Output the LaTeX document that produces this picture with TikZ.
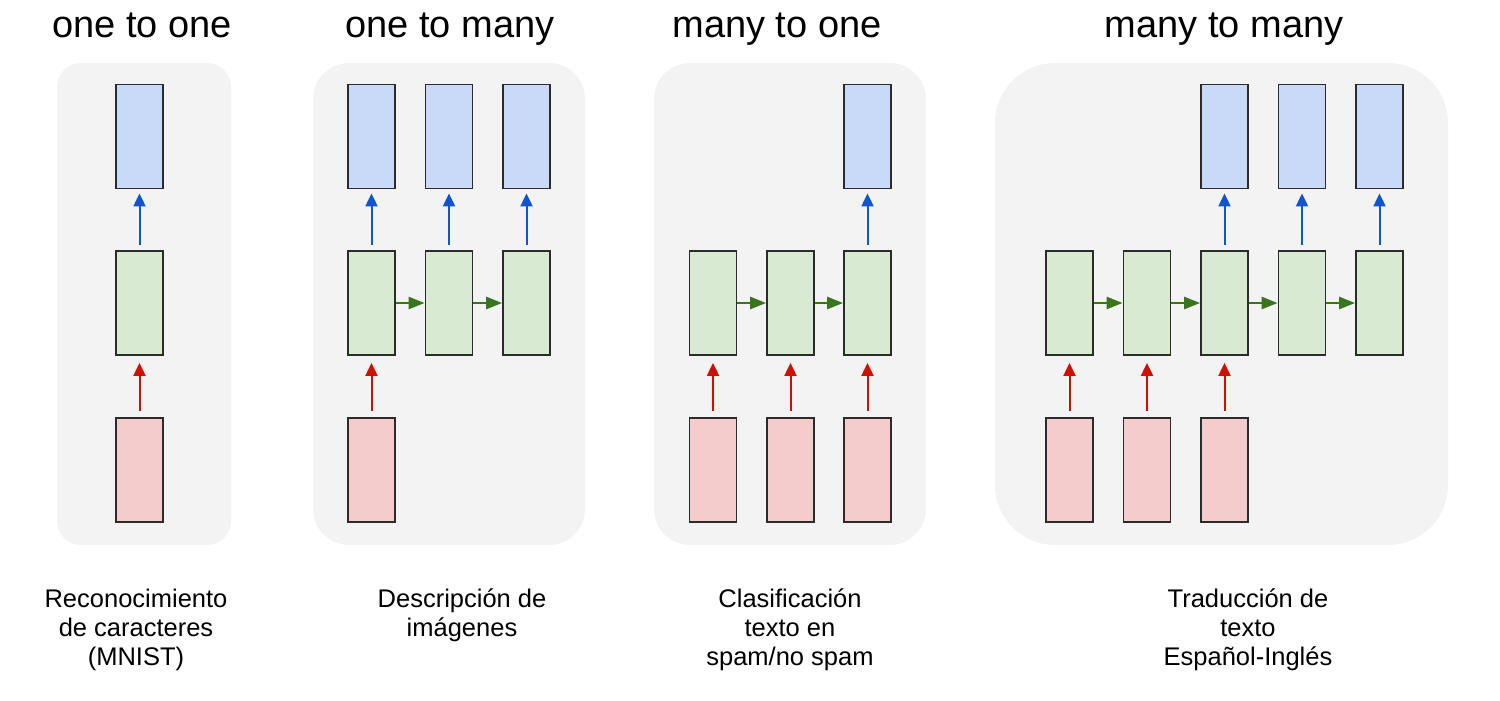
\documentclass[tikz,border=0pt]{standalone}
\usepackage{fontspec}
\setmainfont{Liberation Sans}
\usetikzlibrary{arrows.meta,positioning}
\definecolor{panelgray}{HTML}{F3F3F3}
\definecolor{boxline}{HTML}{2B2B2B}
\definecolor{infill}{HTML}{F4CCCC}
\definecolor{hidfill}{HTML}{D9EAD3}
\definecolor{outfill}{HTML}{C9DAF8}
\definecolor{inarrow}{HTML}{CC1100}
\definecolor{recarrow}{HTML}{38761D}
\definecolor{outarrow}{HTML}{1155CC}

\begin{document}
\begin{tikzpicture}[
    x=1pt, y=-1pt,
    panel/.style={fill=panelgray, draw=none, inner sep=0},
    cell/.style={draw=boxline, line width=1.8pt, minimum width=47pt, minimum height=104pt, inner sep=0},
    cellin/.style={cell, fill=infill},
    cellhid/.style={cell, fill=hidfill},
    cellout/.style={cell, fill=outfill},
    tip/.style={-{Triangle[length=13pt,width=12pt]}},
    arrin/.style={tip, draw=inarrow, fill=inarrow, line width=2pt, shorten <=6pt, shorten >=7pt},
    arrout/.style={tip, draw=outarrow, fill=outarrow, line width=2pt, shorten <=5pt, shorten >=4pt},
    arrrec/.style={-{Triangle[length=16pt,width=12pt]}, draw=recarrow, fill=recarrow, line width=2.6pt},
    ttl/.style={anchor=base, inner sep=0, font=\fontsize{38}{44}\selectfont},
    % base anchor of a multi-line label is its last line
    lbl/.style={anchor=base, inner sep=0, align=center, font=\fontsize{25.5}{29}\selectfont}]
\useasboundingbox (0,0) rectangle (1500,701);

% gray panels
\node[panel, rounded corners=24pt, minimum width=174pt, minimum height=482pt] (p1) at (144,304) {};
\node[panel, rounded corners=36pt, minimum width=272pt, minimum height=482pt] (p2) at (449,304) {};
\node[panel, rounded corners=36pt, minimum width=272pt, minimum height=482pt] (p3) at (790,304) {};
\node[panel, rounded corners=60pt, minimum width=453pt, minimum height=482pt] (p4) at (1221.5,304) {};

% one to one
\node[cellout] (a-o1) at (139.5,136.5) {};
\node[cellhid] (a-h1) at (139.5,303) {};
\node[cellin]  (a-i1) at (139.5,470) {};
\draw[arrout] (a-h1) -- (a-o1);
\draw[arrin] (a-i1) -- (a-h1);

% one to many
\foreach \i/\x in {1/371.5,2/449,3/526.5}{
    \node[cellout] (b-o\i) at (\x,136.5) {};
    \node[cellhid] (b-h\i) at (\x,303) {};
    \draw[arrout] (b-h\i) -- (b-o\i);
}
\node[cellin] (b-i1) at (371.5,470) {};
\draw[arrin] (b-i1) -- (b-h1);
\foreach \a/\b in {1/2,2/3}
    \draw[arrrec] (b-h\a) -- (b-h\b);

% many to one
\foreach \i/\x in {1/713,2/790.5,3/867.5}{
    \node[cellhid] (c-h\i) at (\x,303) {};
    \node[cellin]  (c-i\i) at (\x,470) {};
    \draw[arrin] (c-i\i) -- (c-h\i);
}
\node[cellout] (c-o3) at (867.5,136.5) {};
\draw[arrout] (c-h3) -- (c-o3);
\foreach \a/\b in {1/2,2/3}
    \draw[arrrec] (c-h\a) -- (c-h\b);

% many to many
\foreach \i/\x in {1/1069.5,2/1147,3/1224.5,4/1302,5/1379.5}
    \node[cellhid] (d-h\i) at (\x,303) {};
\foreach \i in {1,2,3}{
    \node[cellin] (d-i\i) at (d-h\i |- 0,470) {};
    \draw[arrin] (d-i\i) -- (d-h\i);
}
\foreach \i in {3,4,5}{
    \node[cellout] (d-o\i) at (d-h\i |- 0,136.5) {};
    \draw[arrout] (d-h\i) -- (d-o\i);
}
\foreach \a/\b in {1/2,2/3,3/4,4/5}
    \draw[arrrec] (d-h\a) -- (d-h\b);

% titles
\node[ttl] (t1) at (142,38) {one to one};
\node[ttl] (t2) at (450,38) {one to many};
\node[ttl] (t3) at (777,38) {many to one};
\node[ttl] (t4) at (1224,38) {many to many};

% captions
\node[lbl] (c1) at (136,665) {Reconocimiento\\de caracteres\\(MNIST)};
\node[lbl] (c2) at (462,636) {Descripción de\\imágenes};
\node[lbl] (c3) at (790,665) {Clasificación\\texto en\\spam/no spam};
\node[lbl] (c4) at (1248,665) {Traducción de\\texto\\Español-Inglés};
\end{tikzpicture}
\end{document}
